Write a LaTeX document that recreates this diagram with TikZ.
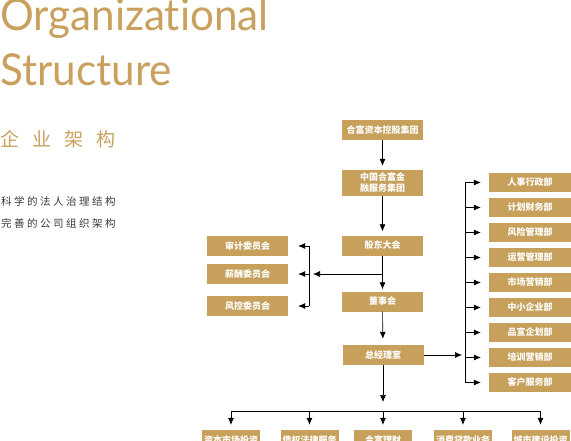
\documentclass[tikz,border=0pt]{standalone}
\usepackage{fontspec}
\usetikzlibrary{arrows.meta}
\newfontfamily\titlefont[FakeStretch=0.96, Ligatures=NoCommon]{Lato}
\newfontfamily\cjk{Noto Sans CJK SC}
\definecolor{gold}{HTML}{C9A05E}
\definecolor{boxgold}{HTML}{C7A05B}
\definecolor{darktext}{HTML}{3A3A3A}
\tikzset{
  box/.style={fill=boxgold, text=white, inner sep=0pt, minimum width=81pt, minimum height=20pt,
    align=center, font=\cjk\bfseries\fontsize{9}{11}\selectfont},
  dept/.style={box, minimum width=82pt, minimum height=19pt},
  small/.style={box, minimum width=58pt},
  arr/.style={-{Latex[length=7pt,width=6pt]}, semithick},
  ln/.style={semithick}
}
\begin{document}
\begin{tikzpicture}[x=1pt,y=-1pt]
  \useasboundingbox (0,0) rectangle (571,440);

  % titulo
  \node[anchor=base west, inner sep=0pt, text=gold, font=\titlefont\fontsize{44}{44}\selectfont] (t1) at (0,30) {Organizational};
  \node[anchor=base west, inner sep=0pt, text=gold, font=\titlefont\fontsize{44}{44}\selectfont] (t2) at (0,85) {Structure};
  \node[anchor=west, inner sep=0pt, text=gold, font=\cjk\fontsize{19}{19}\selectfont] (t3) at (0,139.5) {企\hspace{13pt}业\hspace{13pt}架\hspace{13pt}构};
  \node[anchor=west, inner sep=0pt, text=darktext, font=\cjk\fontsize{10.5}{12}\selectfont] (t4) at (1,201) {科\hspace{2.5pt}学\hspace{2.5pt}的\hspace{2.5pt}法\hspace{2.5pt}人\hspace{2.5pt}治\hspace{2.5pt}理\hspace{2.5pt}结\hspace{2.5pt}构};
  \node[anchor=west, inner sep=0pt, text=darktext, font=\cjk\fontsize{10.5}{12}\selectfont] (t5) at (1,223) {完\hspace{2.5pt}善\hspace{2.5pt}的\hspace{2.5pt}公\hspace{2.5pt}司\hspace{2.5pt}组\hspace{2.5pt}织\hspace{2.5pt}架\hspace{2.5pt}构};

  % columna central
  \node[box] (holding) at (382.5,130) {合富资本控股集团};
  \node[box, minimum height=26pt] (group) at (382.5,183) {中国合富金\\融服务集团};
  \node[box] (meeting) at (382.5,245.5) {股东大会};
  \node[box] (board) at (382.5,301.5) {董事会};
  \node[box] (office) at (383,355) {总经理室};

  % comites
  \node[box] (audit) at (247.5,246) {审计委员会};
  \node[box] (salary) at (247.5,274) {薪酬委员会};
  \node[box] (riskc) at (247.5,306) {风控委员会};

  % departamentos
  \node[dept] (d1) at (530,182.5) {人事行政部};
  \node[dept] (d2) at (530,207.5) {计划财务部};
  \node[dept] (d3) at (530,232.5) {风险管理部};
  \node[dept] (d4) at (530,257.5) {运营管理部};
  \node[dept] (d5) at (530,282.5) {市场营销部};
  \node[dept] (d6) at (530,307.5) {中小企业部};
  \node[dept] (d7) at (530,332.5) {品宣企划部};
  \node[dept] (d8) at (530,357.5) {培训营销部};
  \node[dept] (d9) at (530,382.5) {客户服务部};

  % filiales
  \node[small] (s1) at (231,440) {资本市场投资};
  \node[small] (s2) at (309.5,440) {债权法律服务};
  \node[small] (s3) at (383,440) {合富理财};
  \node[small] (s4) at (463,440) {消费贷款业务};
  \node[small] (s5) at (540.5,440) {城市建设投资};

  % flechas centrales
  \draw[arr, shorten >=4pt] (holding) -- (group);
  \draw[arr, shorten >=4pt] (group) -- (meeting);
  \draw[arr, shorten >=2pt] (meeting) -- (board);
  \draw[arr, shorten >=6pt] (board) -- (office);

  % rama izquierda
  \coordinate (lj) at (382.5,274);
  \coordinate (lt) at (313,274);
  \coordinate (la) at (309,246);
  \coordinate (lc) at (309,306);
  \draw[arr] (lj) -- (lt);
  \draw[ln] (la) -- (lc);
  \draw[arr, shorten >=10pt] (la) -- (audit.east |- la);
  \draw[arr, shorten >=10pt] (309,274) -- (salary.east);
  \draw[arr, shorten >=10pt] (lc) -- (riskc.east |- lc);

  % rama derecha
  \coordinate (rt) at (462,355);
  \coordinate (ra) at (465,182.5);
  \coordinate (rb) at (465,382.5);
  \draw[arr] (office.east) -- (rt);
  \draw[ln] (ra) -- (rb);
  \foreach \d in {d1,d2,d3,d4,d5,d6,d7,d8,d9}
    \draw[arr, shorten >=8pt] (\d.west -| ra) -- (\d.west);

  % rama inferior
  \coordinate (bt) at (383,402);
  \coordinate (bl) at (231,411);
  \coordinate (br) at (540.5,411);
  \draw[arr] (office.south) -- (bt);
  \draw[ln] (bl) -- (br);
  \foreach \s in {s1,s2,s3,s4,s5}
    \draw[arr, shorten >=5pt] (\s.north |- bl) -- (\s.north);
\end{tikzpicture}
\end{document}
